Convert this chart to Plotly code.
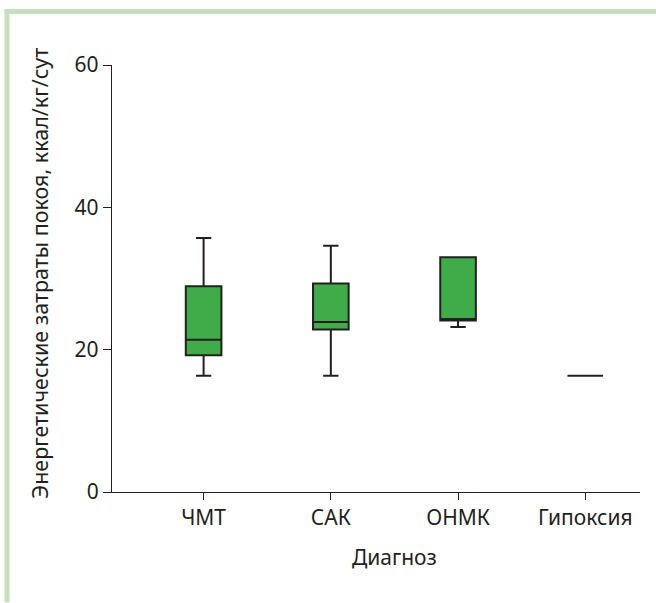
import plotly.graph_objects as go

categories = ["ЧМТ", "САК", "ОНМК", "Гипоксия"]
lower_whisker = [16.35, 16.35, 23.2, 16.35]
q1_values = [19.2, 22.85, 24.1, 16.35]
median_values = [21.4, 23.9, 24.3, 16.35]
q3_values = [28.9, 29.3, 33.0, 16.35]
upper_whisker = [35.7, 34.6, 33.0, 16.35]
y_ticks = [0, 20, 40, 60]

W, H = 656, 603
L, R, T, B = 112, 16, 65, 110.5
PW, PH = W - L - R, H - T - B

def px_x(px):
    return (px - L) / PW

def px_y(py):
    return (H - B - py) / PH

fig = go.Figure()
fig.add_trace(go.Box(
    x=categories,
    q1=q1_values,
    median=median_values,
    q3=q3_values,
    lowerfence=lower_whisker,
    upperfence=upper_whisker,
    fillcolor="#40ac49",
    line=dict(color="#231f20", width=2),
    width=0.28,
    whiskerwidth=0.43,
    boxpoints=False,
    showlegend=False,
))

FAM = "Noto Sans, Open Sans, sans-serif"
axis_font = dict(family=FAM, size=21, color="#231f20")

fig.update_layout(
    width=W, height=H,
    margin=dict(l=L, r=R, t=T, b=B, pad=0),
    paper_bgcolor="white", plot_bgcolor="white",
    font=axis_font,
    xaxis=dict(
        type="category", range=[-0.72, 3.43],
        showline=True, linecolor="#231f20", linewidth=1.3,
        ticks="outside", ticklen=7, tickwidth=1.3, tickcolor="#231f20",
        showgrid=False, zeroline=False, tickfont=axis_font,
    ),
    yaxis=dict(
        range=[0, 60], tickvals=y_ticks,
        showline=True, linecolor="#231f20", linewidth=1.3,
        ticks="outside", ticklen=8, tickwidth=1.3, tickcolor="#231f20",
        showgrid=False, zeroline=False, tickfont=axis_font,
    ),
    shapes=[
        dict(type="rect", xref="paper", yref="paper",
             x0=px_x(4.5), x1=px_x(656), y0=px_y(14), y1=px_y(9),
             fillcolor="#c7dfc1", line=dict(width=0), layer="below"),
        dict(type="rect", xref="paper", yref="paper",
             x0=px_x(4.5), x1=px_x(9.5), y0=px_y(603), y1=px_y(9),
             fillcolor="#c7dfc1", line=dict(width=0), layer="below"),
    ],
    annotations=[
        dict(text="Диагноз", xref="paper", yref="paper",
             x=px_x(394), y=px_y(558), showarrow=False,
             xanchor="center", yanchor="middle", font=axis_font),
        dict(text="Энергетические затраты покоя, ккал/кг/сут", xref="paper", yref="paper",
             x=px_x(40), y=px_y(274), showarrow=False, textangle=-90,
             xanchor="center", yanchor="middle", font=dict(family=FAM, size=21.5, color="#231f20")),
    ],
)

fig.write_html("out.html", config={"displayModeBar": False},
               post_script="document.body.style.margin='0px';")
